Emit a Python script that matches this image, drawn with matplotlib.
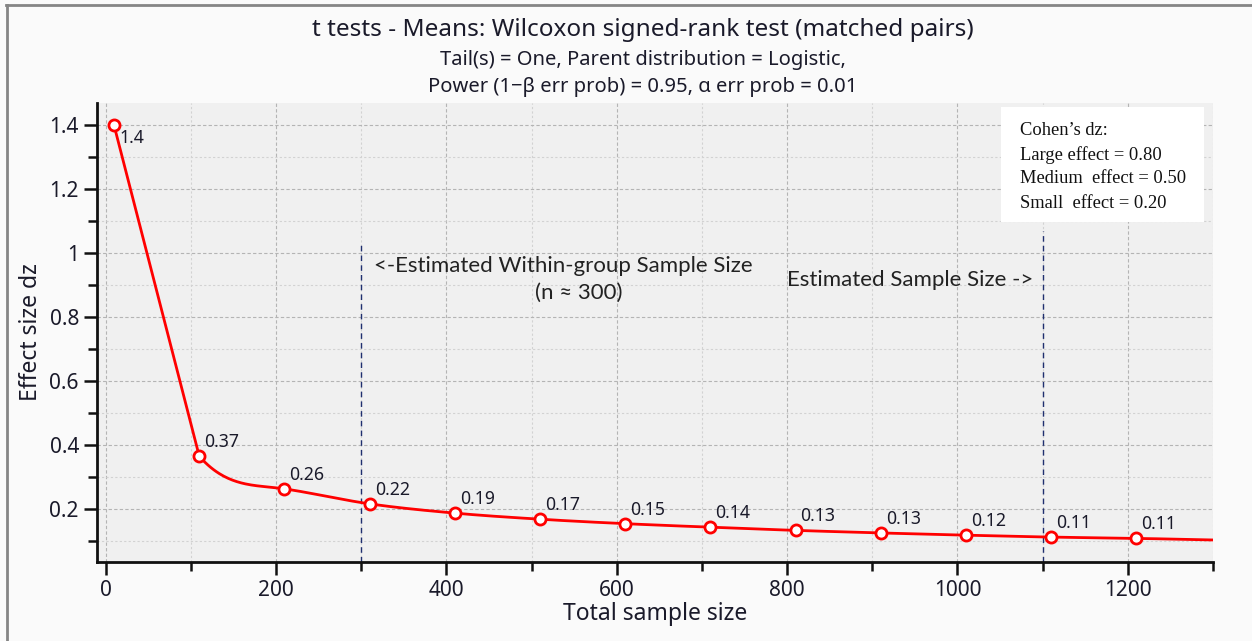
import numpy as np
import matplotlib
matplotlib.use("Agg")
import matplotlib.pyplot as plt
from matplotlib.lines import Line2D
from matplotlib.ticker import MultipleLocator, FixedLocator

# ---------------- data ----------------
sample_sizes = [10, 110, 210, 310, 410, 510, 610, 710, 810, 910, 1010, 1110, 1210]
effect_sizes = [1.40, 0.365, 0.263, 0.216, 0.187, 0.168, 0.154, 0.143, 0.133, 0.125, 0.118, 0.112, 0.108]
point_labels = ["1.4", "0.37", "0.26", "0.22", "0.19", "0.17", "0.15", "0.14",
                "0.13", "0.13", "0.12", "0.11", "0.11"]
curve_end_x = 1300
curve_end_y = 0.103

title_lines = ["t tests - Means: Wilcoxon signed-rank test (matched pairs)",
               "Tail(s) = One, Parent distribution = Logistic,",
               "Power (1\u2212\u03b2 err prob) = 0.95, \u03b1 err prob = 0.01"]
legend_lines = ["Cohen\u2019s dz:", "Large effect = 0.80", "Medium  effect = 0.50", "Small  effect = 0.20"]
within_n = 300
estimated_n = 1100
x_major = [0, 200, 400, 600, 800, 1000, 1200]
y_major = [0.2, 0.4, 0.6, 0.8, 1.0, 1.2, 1.4]
y_major_labels = ["0.2", "0.4", "0.6", "0.8", "1", "1.2", "1.4"]


def smooth_curve(x, y, n=60):
    """Catmull-Rom tangents with Fritsch-Carlson limiting; first segment straight."""
    x = np.asarray(x, float)
    y = np.asarray(y, float)
    h = np.diff(x)
    d = np.diff(y) / h
    m = np.empty_like(y)
    m[0] = d[0]
    m[-1] = d[-1]
    m[1:-1] = (y[2:] - y[:-2]) / (x[2:] - x[:-2])
    for k in range(1, len(d)):
        a = m[k] / d[k]
        b = m[k + 1] / d[k]
        s = a * a + b * b
        if s > 9:
            t = 3 / np.sqrt(s)
            m[k] = t * a * d[k]
            m[k + 1] = t * b * d[k]
    xs, ys = [np.array([x[0]])], [np.array([y[0]])]
    for k in range(1, len(d)):
        t = np.linspace(0, 1, n)
        h00 = 2 * t**3 - 3 * t**2 + 1
        h10 = t**3 - 2 * t**2 + t
        h01 = -2 * t**3 + 3 * t**2
        h11 = t**3 - t**2
        xs.append(x[k] + t * h[k])
        ys.append(h00 * y[k] + h10 * h[k] * m[k] + h01 * y[k + 1] + h11 * h[k] * m[k + 1])
    return np.concatenate(xs), np.concatenate(ys)


fig = plt.figure(figsize=(12.52, 6.41), dpi=100, facecolor="#fafafa")
ax = fig.add_axes([0.0775, 0.1232, 0.9689 - 0.0775, 0.8393 - 0.1232])
ax.set_facecolor("#f0f0f0")

# figure frame (top & left)
fig.add_artist(Line2D([0.0055, 0.0055], [0, 0.9925], transform=fig.transFigure,
                      color="#858585", lw=2.0))
fig.add_artist(Line2D([0.0045, 1.0], [0.9925, 0.9925], transform=fig.transFigure,
                      color="#858585", lw=2.0))

ax.set_xlim(-10, 1300)
ax.set_ylim(0.034, 1.47)

ax.xaxis.set_major_locator(FixedLocator(x_major))
ax.xaxis.set_minor_locator(MultipleLocator(100))
ax.yaxis.set_major_locator(FixedLocator(y_major))
ax.set_yticklabels(y_major_labels)
ax.yaxis.set_minor_locator(MultipleLocator(0.1))

ax.grid(True, which="major", color="#b4b4b4", linestyle=(0, (3, 2)), lw=0.8)
ax.grid(True, which="minor", color="#d2d2d2", linestyle=(0, (2, 2)), lw=0.8)
ax.set_axisbelow(True)

for s in ["top", "right"]:
    ax.spines[s].set_visible(False)
for s in ["left", "bottom"]:
    ax.spines[s].set_linewidth(2)
    ax.spines[s].set_color("#111111")

ax.tick_params(which="major", length=9.5, width=1.8, color="#111111",
               labelsize=15, labelcolor="#1a1a2a", pad=3.5)
ax.tick_params(which="minor", length=6.5, width=1.8, color="#111111")
for lab in ax.get_xticklabels() + ax.get_yticklabels():
    lab.set_family("Noto Sans")

# curve
cx, cy = smooth_curve(sample_sizes + [curve_end_x], effect_sizes + [curve_end_y])
ax.plot(cx, cy, color="#ff0000", lw=2, zorder=3)
ax.plot(sample_sizes, effect_sizes, linestyle="none", marker="o", ms=8,
        mfc="white", mec="#ff0000", mew=2, zorder=4)

for i, (xv, yv, lab) in enumerate(zip(sample_sizes, effect_sizes, point_labels)):
    off = (5, -13) if i == 0 else (5, 14)
    ax.annotate(lab, (xv, yv), xytext=off, textcoords="offset pixels",
                fontsize=12.7, family="Noto Sans", color="#1a1a2a",
                ha="left", va="center", zorder=5)

# vertical dashed lines
ax.plot([within_n, within_n], [0.034, 1.025], color="#1f2f6f", lw=1,
        linestyle=(0, (4, 3)), zorder=2)
ax.plot([estimated_n, estimated_n], [0.034, 1.07], color="#1f2f6f", lw=1,
        linestyle=(0, (4, 3)), zorder=2)

ax.text(537, 0.96, "<-Estimated Within-group Sample Size", fontsize=16,
        family="Lato", color="#222222", ha="center", va="center")
ax.text(556, 0.877, "(n \u2248 300)", fontsize=16, family="Lato",
        color="#222222", ha="center", va="center")
ax.text(944, 0.916, "Estimated Sample Size ->", fontsize=16, family="Lato",
        color="#222222", ha="center", va="center")

# legend box
ax.add_patch(plt.Rectangle((1051, 1.098), 238.5, 0.36, facecolor="white",
                           edgecolor="none", zorder=6))
for j, txt in enumerate(legend_lines):
    ax.text(1073, 1.3835 - j * 0.0755, txt, fontsize=13.3, family="Liberation Serif",
            color="#111111", ha="left", va="center", zorder=7)

ax.set_xlabel("Total sample size", fontsize=16.5, family="Noto Sans",
              color="#1a1a2a", labelpad=1)
ax.set_ylabel("Effect size dz", fontsize=16.5, family="Noto Sans",
              color="#1a1a2a", labelpad=5)

fig.text(0.5136, 0.953, title_lines[0], fontsize=17.5, family="Noto Sans",
         ha="center", va="center", color="#1a1a2a")
fig.text(0.5136, 0.907, title_lines[1], fontsize=14.5, family="Noto Sans",
         ha="center", va="center", color="#1a1a2a")
fig.text(0.5136, 0.8635, title_lines[2], fontsize=14.5, family="Noto Sans",
         ha="center", va="center", color="#1a1a2a")

fig.savefig("out.png", dpi=100, facecolor=fig.get_facecolor())
